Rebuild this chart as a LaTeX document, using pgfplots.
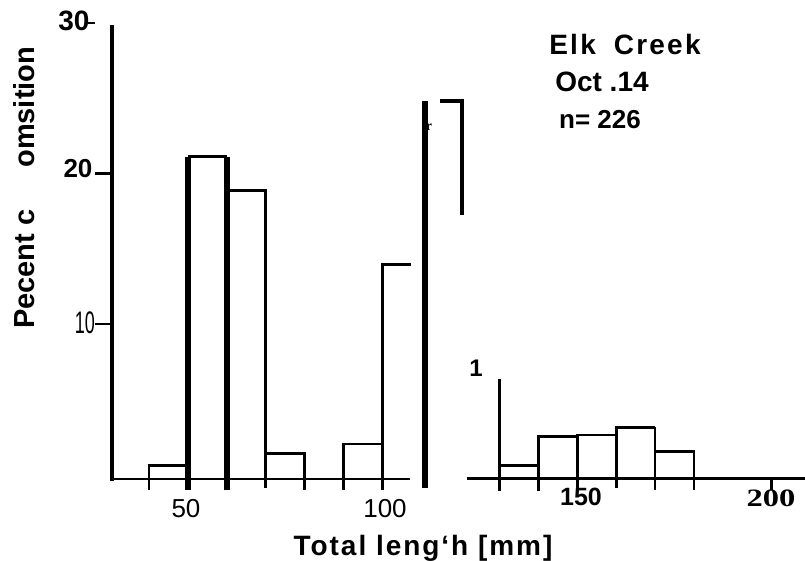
\documentclass[border=0pt]{standalone}
\usepackage{pgfplots}
\pgfplotsset{compat=1.18}
\usepackage{fontspec}
\setmainfont{Liberation Sans}
\newfontfamily\seriffont{Liberation Serif}

\begin{document}
\begin{tikzpicture}
\path[use as bounding box] (0,0) rectangle (402.5pt,280.5pt);
\begin{axis}[
    at={(55.07pt,41pt)}, anchor=south west,
    scale only axis, width=340.6pt, height=228pt,
    xmin=30, xmax=205, ymin=0, ymax=30,
    hide axis, clip=false,
    cycle list={{black, solid, mark=none}},
    every axis plot/.append style={line width=1.4pt, line join=miter},
]
% broken axes
\addplot[line width=2pt] coordinates {(30.5,-0.1)(30.5,29.9)};
\addplot[line width=1.4pt] coordinates {(30.5,0)(107,0)};
\addplot[line width=1.4pt] coordinates {(121.7,0.05)(208.5,0.05)};
\addplot[line width=1.2pt] coordinates {(26.1,20.1)(30.5,20.1)};
\addplot[line width=1.2pt] coordinates {(26.1,10.2)(30.5,10.2)};
\addplot[line width=1.2pt] coordinates {(24.3,30.0)(26.1,30.0)};
% left group, 10 mm classes
\addplot coordinates {(40,-0.7)(40,0.9)(50,0.9)};
\addplot[line width=2.6pt] coordinates {(50,-0.75)(50,21.2)};
\addplot[line width=2.6pt] coordinates {(60,-0.75)(60,21.2)};
\addplot coordinates {(50,21.2)(60,21.2)};
\addplot coordinates {(60,19.0)(70,19.0)(70,-0.6)};
\addplot coordinates {(70,1.7)(80,1.7)(80,-0.7)};
\addplot coordinates {(90,-0.7)(90,2.3)(100,2.3)};
\addplot coordinates {(100,-0.7)(100,14.1)(107.2,14.1)};
% break marks
\addplot[line width=2.6pt] coordinates {(110.9,-0.6)(110.9,24.9)};
\addplot[line width=2pt] coordinates {(114.7,24.9)(120.4,24.9)(120.4,17.4)};
% right group
\addplot coordinates {(130,-0.8)(130,6.6)};
\addplot coordinates {(130,0.9)(140,0.9)};
\addplot coordinates {(140,-0.8)(140,2.8)(150,2.8)};
\addplot coordinates {(150,-0.7)(150,2.9)(160,2.9)};
\addplot coordinates {(160,-0.6)(160,3.4)(170,3.4)};
\addplot coordinates {(170,-0.7)(170,3.4)};
\addplot coordinates {(170,1.8)(180,1.8)(180,-0.75)};
\addplot coordinates {(200,0)(200,-0.75)};
\end{axis}

\begin{scope}[x=0.5pt,y=-0.5pt,shift={(0pt,280.5pt)}]
% y tick labels
\node[font=\fontsize{14}{14}\selectfont\bfseries] at (74,21) {30};
\node[font=\fontsize{13}{13}\selectfont\bfseries] at (78,169) {20};
\node[font=\fontsize{12}{12}\selectfont] at (85,323) {\scalebox{0.75}[1.3]{10}};
% x tick labels
\node[font=\fontsize{13}{13}\selectfont] at (186,509) {50};
\node[font=\fontsize{13}{13}\selectfont] at (385,509) {100};
\node[font=\fontsize{12.5}{12.5}\selectfont\bfseries] at (581,497) {150};
\node[font=\fontsize{12.5}{12.5}\selectfont\bfseries\seriffont] at (771,498) {\scalebox{1.3}[1]{200}};
\node[font=\fontsize{12}{12}\selectfont\bfseries] at (476,368) {1};
\node[font=\fontsize{7}{7}\selectfont\bfseries\seriffont] at (429,127) {r};
% axis titles
\node[font=\fontsize{14}{14}\selectfont\bfseries\addfontfeature{LetterSpace=7}] at (423,548) {Total leng‘h [mm]};
\node[rotate=90, anchor=base west, font=\fontsize{14.5}{14.5}\selectfont\bfseries] at (34,336) {Pecent c\hspace{21pt}omsition};
% site note
\node[font=\fontsize{14}{14}\selectfont\bfseries\addfontfeature{LetterSpace=8}] at (625,45) {Elk\hspace{4pt} Creek};
\node[font=\fontsize{14}{14}\selectfont\bfseries] at (602,82) {Oct .14};
\node[font=\fontsize{13}{13}\selectfont\bfseries] at (600,120) {n= 226};
\end{scope}
\end{tikzpicture}
\end{document}
